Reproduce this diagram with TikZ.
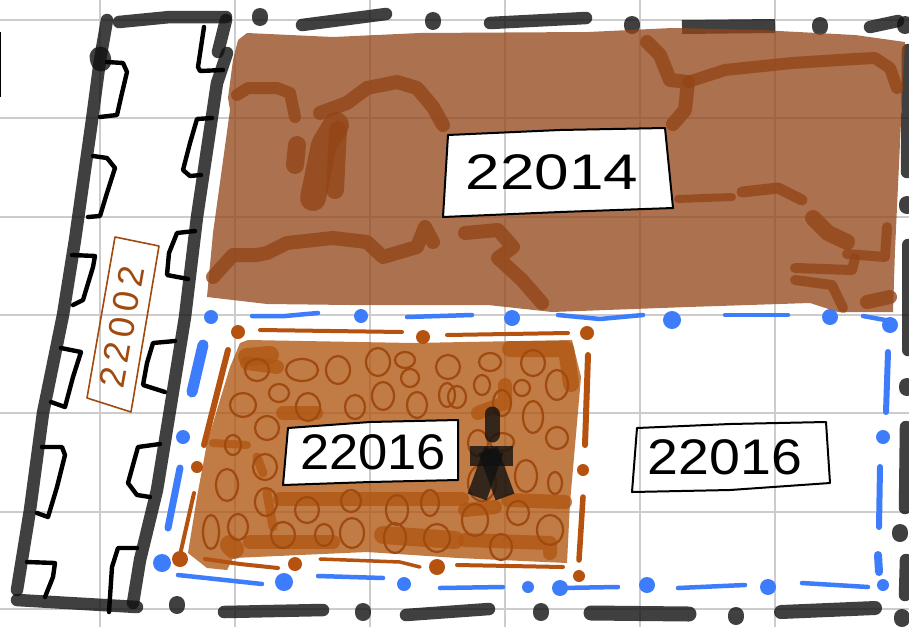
\documentclass[tikz,border=0pt]{standalone}
\usepackage{fontspec}
\setmainfont{Liberation Sans}
\definecolor{planGrid}{HTML}{cccccc}
\definecolor{planDark}{HTML}{111111}
\definecolor{planSoil}{HTML}{934517}
\definecolor{planClay}{HTML}{b05611}
\definecolor{planRust}{HTML}{b5520f}
\definecolor{planRing}{HTML}{a04a10}
\definecolor{planBlue}{HTML}{3d7dfb}
\begin{document}
\begin{tikzpicture}[x=1pt, y=-1pt,
        gridline/.style={draw=planGrid, line width=2pt},
        wall/.style={draw=planDark, draw opacity=.8, line width=12.5pt, line cap=round, line join=round},
        dab/.style={draw=planDark, draw opacity=.8, line width=16pt, line cap=round},
        tab/.style={draw=black, line width=4.4pt, line cap=round, line join=round},
        mass/.style={fill=planSoil, fill opacity=.76, even odd rule},
        trace/.style={draw=planSoil, draw opacity=.78, line width=14pt, line cap=round, line join=round},
        clay/.style={fill=planClay, fill opacity=.78, even odd rule},
        patch/.style={draw=planClay, draw opacity=.78, line width=14pt, line cap=round, line join=round},
        ring/.style={draw=planRing, line width=2.2pt},
        rust/.style={draw=planRust, line width=4pt, line cap=round, line join=round},
        sky/.style={draw=planBlue, line width=4.5pt, line cap=round, line join=round},
        tag/.style={draw=black, line width=2pt, line join=round},
        num/.style={inner sep=0pt, text=black, font=\fontsize{50}{50}\selectfont}]
        \useasboundingbox (0,0) rectangle (909,627);
        \fill[white] (0,0) rectangle (909,627);
        \foreach \gx in {100,235,370,505,640,775}
          \draw[gridline] (\gx,0) -- (\gx,627);
        \foreach \gy in {20,118,217,315,413,512,609}
          \draw[gridline] (0,\gy) -- (909,\gy);
        \draw[draw=black, line width=2pt] (0,32) -- (0,97);
        \draw[wall] (107,20) -- (100,60) -- (92,120) -- (75,240) -- (63,315) -- (43,413) -- (30,510) -- (17,590);
        \draw[wall] (17,600) -- (137,607);
        \draw[wall] (119,22) -- (170,17) -- (226,17);
        \draw[wall] (226,20) -- (218,52);
        \draw[wall] (227,53) -- (217,83) -- (207,150) -- (197,217) -- (185,317) -- (170,410) -- (157,490) -- (140,560) -- (133,603);
        \draw[draw=planDark, draw opacity=.8, line width=21pt, line cap=round] (100,57) -- (101,61);
        \draw[wall] (302,25) -- (386,14);
        \draw[wall] (490,23) -- (586,18);
        \draw[wall, line width=14pt, line cap=butt] (682,27) -- (775,26);
        \draw[wall] (870,27) -- (898,21);
        \draw[wall] (224,612) -- (323,610);
        \draw[wall] (406,615) -- (489,609);
        \draw[wall, line width=15pt] (591,613) -- (689,614);
        \draw[wall, line width=14pt] (781,612) -- (875,608);
        \draw[wall] (908,50) -- (907,172);
        \draw[wall] (908,245) -- (908,350);
        \draw[wall] (906,427) -- (905,508);
        \draw[wall] (906,560) -- (905,595);
        \foreach \dx/\dy in {260/17,433/21,632/25,820/26,905/25,177/605,363/612,541/612,736/616,902/618,907/205,907/387,900/533}
          \draw[dab] (\dx,\dy-1) -- (\dx,\dy+1);
        \draw[tab] (107,62) -- (123,63) -- (127,72) -- (122,93) -- (117,115) -- (100,117);
        \draw[tab] (93,156) -- (107,158) -- (115,168) -- (107,193) -- (100,216) -- (88,217);
        \draw[tab] (72,255) -- (95,256) -- (93,267) -- (83,300) -- (73,305);
        \draw[tab] (61,348) -- (81,352) -- (73,377) -- (65,407) -- (51,402);
        \draw[tab] (42,447) -- (62,447) -- (65,455) -- (57,487) -- (48,517) -- (37,513);
        \draw[tab] (27,562) -- (55,563) -- (53,577) -- (45,597);
        \draw[tab] (204,27) -- (198,67) -- (200,71) -- (223,70);
        \draw[tab] (212,118) -- (197,119) -- (190,143) -- (183,170) -- (190,176) -- (201,175);
        \draw[tab] (195,231) -- (177,233) -- (169,253) -- (167,275) -- (188,279);
        \draw[tab] (175,341) -- (153,343) -- (147,363) -- (143,385) -- (165,392);
        \draw[tab] (160,444) -- (138,447) -- (128,483) -- (137,495) -- (150,497);
        \draw[tab] (137,548) -- (118,548) -- (112,567) -- (109,612);
        \fill[mass] (247,33) -- (333,37) -- (420,33) -- (588,32) -- (672,28) -- (760,30) -- (855,35) -- (905,42) -- (902,100) -- (895,250) -- (893,312) -- (838,312) -- (810,303) -- (688,307) -- (552,312) -- (488,305) -- (350,305) -- (267,304) -- (207,297) -- (213,233) -- (230,110) -- (228,98) -- (233,60) -- (238,40) -- cycle
          (448,135) -- (560,130) -- (665,128) -- (673,208) -- (560,212) -- (443,217) -- cycle;
        \draw[trace, line width=12pt] (237,95) -- (248,88) -- (277,88) -- (290,93) -- (295,117);
        \draw[trace] (320,113) -- (347,103) -- (367,88) -- (397,82) -- (417,88) -- (433,107) -- (443,125);
        \draw[trace, line width=26pt] (336,125) -- (324,145) -- (313,198);
        \draw[trace, line width=18pt] (338,130) -- (335,190);
        \draw[trace, line width=18pt] (297,145) -- (295,165);
        \draw[trace] (213,277) -- (233,255) -- (257,255) -- (267,253) -- (287,243) -- (333,238) -- (367,242) -- (383,257) -- (417,247) -- (425,227) -- (433,242);
        \draw[trace] (465,233) -- (498,230) -- (513,247) -- (498,258) -- (522,280) -- (542,303);
        \draw[trace] (647,42) -- (660,55) -- (670,80) -- (688,82) -- (685,110) -- (673,124);
        \draw[trace, line width=12pt] (688,82) -- (725,70) -- (792,63) -- (855,59) -- (875,58) -- (890,68) -- (897,88);
        \draw[trace, line width=8pt] (678,199) -- (732,197);
        \draw[trace, line width=11pt] (742,192) -- (778,188) -- (802,200);
        \draw[trace, line width=16pt] (813,218) -- (828,233) -- (847,242);
        \draw[trace, line width=10pt] (847,254) -- (885,257) -- (887,227);
        \draw[trace, line width=10pt] (795,268) -- (852,270) -- (855,258);
        \draw[trace, line width=10pt] (795,280) -- (832,285) -- (843,308);
        \draw[trace] (867,302) -- (890,297);
        \fill[clay] (248,340) -- (413,343) -- (572,340) -- (581,377) -- (570,503) -- (567,563) -- (458,558) -- (367,552) -- (233,558) -- (227,570) -- (207,568) -- (188,553) -- (197,497) -- (207,443) -- (230,367) -- (240,343) -- cycle
          (288,428) -- (370,422) -- (458,420) -- (458,480) -- (370,482) -- (283,485) -- cycle;
        \draw[patch, line width=18pt] (247,357) -- (270,355);
        \draw[patch] (247,363) -- (277,367);
        \draw[patch] (283,413) -- (316,413);
        \draw[patch, line width=8pt] (213,443) -- (247,445);
        \draw[patch, line width=9pt] (257,457) -- (263,473);
        \draw[patch, line width=14pt] (280,499) -- (462,499);
        \draw[patch, line width=9pt] (267,493) -- (273,527);
        \draw[patch] (250,542) -- (333,542);
        \draw[patch, line width=20pt] (230,545) -- (234,549);
        \draw[patch, line width=18pt] (383,535) -- (455,540);
        \draw[patch, line width=16pt] (510,349) -- (566,349) -- (571,384);
        \draw[patch] (478,413) -- (505,403) -- (505,385);
        \draw[patch] (465,510) -- (495,507);
        \draw[patch] (508,500) -- (565,502);
        \draw[patch] (465,540) -- (550,543) -- (550,553);
        \foreach \cx/\cy/\rx/\ry in {257/370/12/11,302/370/16/11,338/370/12/14,378/362/12/14,405/360/10/8,410/378/9/9,448/367/12/12,
          243/405/13/12,279/393/10/9,308/407/12/14,355/407/10/12,383/396/11/14,417/405/10/13,447/395/8/12,
          267/428/12/12,233/445/8/10,265/467/12/13,227/485/11/16,266/502/11/14,307/510/12/13,351/501/10/11,397/510/11/15,430/503/9/13,
          211/532/8/17,238/527/10/13,283/535/12/13,324/535/9/11,352/533/12/15,395/538/11/15,437/538/13/14,
          490/362/11/9,533/363/12/13,482/385/8/10,522/388/8/8,557/385/11/15,457/397/9/11,502/403/9/13,533/417/10/16,557/438/11/11,
          478/443/10/13,502/442/12/9,526/476/11/16,555/483/7/11,482/483/14/18,475/520/13/16,518/513/11/12,550/530/13/15,501/547/11/13}
          \draw[ring] (\cx,\cy) ellipse [x radius=\rx, y radius=\ry];
        \draw[wall, line width=15pt, line cap=round] (492,414) -- (492,435);
        \draw[wall, line width=20pt, line cap=butt] (470,456) -- (513,456);
        \draw[wall, line width=20pt, line cap=butt] (494,450) -- (477,497);
        \draw[wall, line width=20pt, line cap=butt] (488,450) -- (505,497);
        \draw[tag] (448,135) -- (560,130) -- (665,128) -- (673,208) -- (560,212) -- (443,217) -- cycle;
        \draw[tag] (288,428) -- (370,422) -- (458,420) -- (458,480) -- (370,482) -- (283,485) -- cycle;
        \draw[tag] (637,428) -- (730,424) -- (826,422) -- (830,483) -- (730,490) -- (632,492) -- cycle;
        \draw[draw=planRing, line width=1.6pt, line join=round] (115,237) -- (159,246) -- (131,412) -- (87,398) -- cycle;
        \node[num, xscale=1.24] (num14) at (552,172) {22014};
        \node[num, xscale=1.05] (num16a) at (373,452) {22016};
        \node[num, xscale=1.11] (num16b) at (725,457) {22016};
        \node[num, rotate=80, text=planRing, font=\addfontfeature{LetterSpace=16}\fontsize{36}{36}\selectfont] (num02) at (122,327) {22002};
        \foreach \rx/\ry/\rr in {238/332/7,423/337/7,587/333/7,583/470/6,579/576/6,437/567/8,295/564/7,180/559/8,197/467/6}
          \fill[planRust] (\rx,\ry) circle [radius=\rr];
        \draw[rust] (260,330) -- (402,332);
        \draw[rust] (447,335) -- (568,333);
        \draw[rust, line width=6pt] (588,355) -- (585,445);
        \draw[rust, line width=5.5pt] (583,497) -- (579,560);
        \draw[rust] (563,567) -- (457,565);
        \draw[rust, line width=3.5pt] (320,559) -- (400,562) -- (420,567);
        \draw[rust] (205,559) -- (240,564) -- (278,568);
        \draw[rust] (180,555) -- (194,493);
        \draw[rust, line width=6pt] (204,445) -- (228,350);
        \foreach \sx/\sy/\sr in {211/317/7,361/316/7,512/318/8,672/320/9,830/317/8,890/325/8,883/437/7,883/585/6,768/587/8,647/585/8,560/588/8,528/587/6,404/584/7,284/582/9,162/563/9,183/437/7}
          \fill[planBlue] (\sx,\sy) circle [radius=\sr];
        \draw[sky] (252,316) -- (285,316) -- (318,313);
        \draw[sky] (407,317) -- (472,315);
        \draw[sky] (558,315) -- (600,319) -- (643,315);
        \draw[sky] (725,315) -- (788,315);
        \draw[sky] (863,316) -- (885,320);
        \draw[sky, line width=6pt] (888,352) -- (886,412);
        \draw[sky, line width=6pt] (880,467) -- (879,527);
        \draw[sky, line width=8pt] (878,555) -- (879,572);
        \draw[sky] (868,587) -- (802,583);
        \draw[sky] (745,585) -- (678,588);
        \draw[sky] (618,587) -- (560,588);
        \draw[sky] (503,587) -- (440,588);
        \draw[sky] (383,578) -- (318,576);
        \draw[sky] (262,584) -- (178,575);
        \draw[sky, line width=7pt] (168,528) -- (180,468);
        \draw[sky, line width=11pt] (192,392) -- (203,345);
      \end{tikzpicture}
\end{document}
